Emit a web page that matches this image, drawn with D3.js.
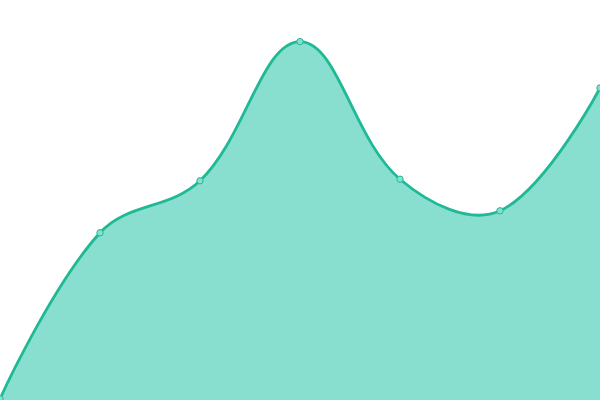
<!DOCTYPE html>
<html>
<head>
<meta charset="utf-8">
<script src="https://cdn.jsdelivr.net/npm/d3@7"></script>
<style>
  html, body { margin: 0; padding: 0; background: #fff; }
  svg { display: block; }
</style>
</head>
<body>
<svg width="600" height="400"></svg>
<script>
// values (y domain 0..100)
const steps = [0, 1, 2, 3, 4, 5, 6];
const values = [0.3, 41.8, 54.8, 89.6, 55.2, 47.3, 78];

const svg = d3.select("svg");
const width = 600, height = 400;

const x = d3.scaleLinear().domain([0, 6]).range([0, width]);
const y = d3.scaleLinear().domain([0, 100]).range([height, 0]);

const data = steps.map((s, i) => ({ s: s, v: values[i] }));

// smooth bezier curve: control points along (next - prev), split by segment length,
// first/last control points sit on the end points, clamped to the points' bbox
function SmoothCurve(context, smooth) {
    this._context = context;
    this._smooth = smooth;
}
SmoothCurve.prototype = {
    areaStart: function() { this._line = 0; },
    areaEnd: function() { this._line = NaN; },
    lineStart: function() { this._pts = []; },
    point: function(px, py) { this._pts.push([+px, +py]); },
    lineEnd: function() {
        const p = this._pts, n = p.length, c = this._context, s = this._smooth;
        if (n) {
            if (this._line) c.lineTo(p[0][0], p[0][1]);
            else c.moveTo(p[0][0], p[0][1]);
            const minX = d3.min(p, d => d[0]), maxX = d3.max(p, d => d[0]);
            const minY = d3.min(p, d => d[1]), maxY = d3.max(p, d => d[1]);
            const clamp = q => [Math.max(minX, Math.min(maxX, q[0])), Math.max(minY, Math.min(maxY, q[1]))];
            let cp0 = p[0].slice();
            let v = [0, 0];
            for (let i = 1; i < n; i++) {
                const cur = p[i], prev = p[i - 1], next = p[i + 1];
                let cp1, ratio = 0.5;
                if (!next) {
                    cp1 = cur.slice();
                } else {
                    v = [next[0] - prev[0], next[1] - prev[1]];
                    const l0 = Math.hypot(cur[0] - prev[0], cur[1] - prev[1]);
                    const l1 = Math.hypot(next[0] - cur[0], next[1] - cur[1]);
                    ratio = l1 / (l0 + l1);
                    cp1 = [cur[0] - v[0] * s * (1 - ratio), cur[1] - v[1] * s * (1 - ratio)];
                }
                cp0 = clamp(cp0);
                cp1 = clamp(cp1);
                c.bezierCurveTo(cp0[0], cp0[1], cp1[0], cp1[1], cur[0], cur[1]);
                cp0 = [cur[0] + v[0] * s * ratio, cur[1] + v[1] * s * ratio];
            }
        }
        if (this._line || (this._line !== 0 && n === 1)) c.closePath();
        this._line = 1 - this._line;
    }
};
const curveSmooth = context => new SmoothCurve(context, 0.38);

const area = d3.area()
    .x(d => x(d.s))
    .y0(height)
    .y1(d => y(d.v))
    .curve(curveSmooth);

const line = d3.line()
    .x(d => x(d.s))
    .y(d => y(d.v))
    .curve(curveSmooth);

svg.append("path")
    .datum(data)
    .attr("d", area)
    .attr("fill", "#89dfcf");

svg.append("path")
    .datum(data)
    .attr("d", line)
    .attr("fill", "none")
    .attr("stroke", "#1fb993")
    .attr("stroke-width", 2.8);

svg.selectAll("circle").data(data)
    .enter().append("circle")
    .attr("cx", d => x(d.s))
    .attr("cy", d => y(d.v))
    .attr("r", 3.2)
    .attr("fill", "#89dfcf")
    .attr("stroke", "#1fb993")
    .attr("stroke-width", 1);
</script>
</body>
</html>
